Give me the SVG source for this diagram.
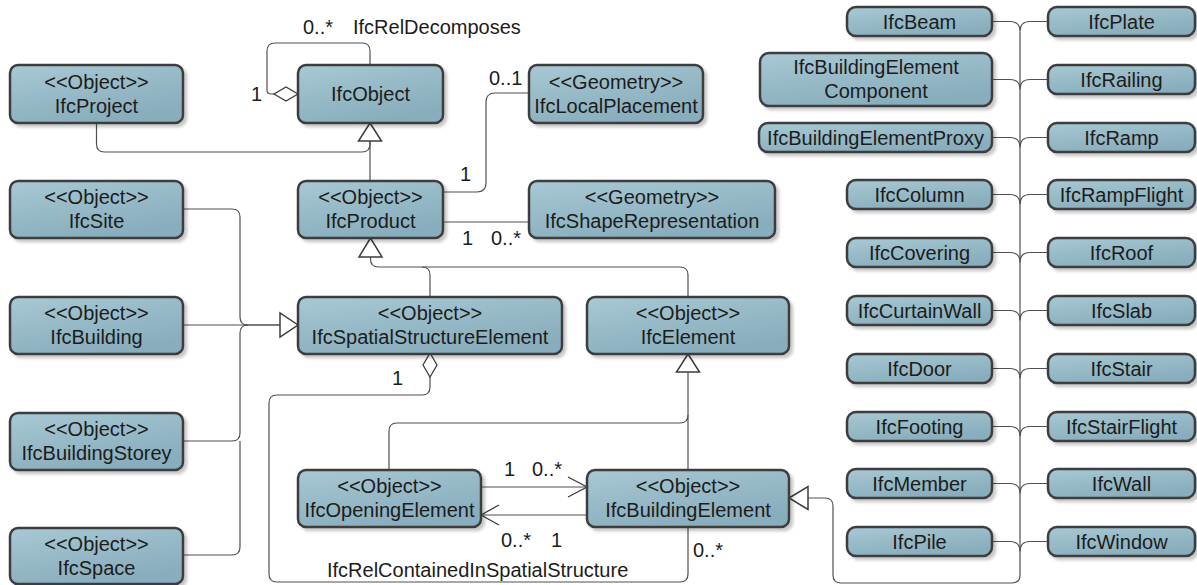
<svg xmlns="http://www.w3.org/2000/svg" width="1197" height="585" viewBox="0 0 1197 585">
<defs>
<linearGradient id="g" x1="0" y1="0" x2="0.5" y2="1">
<stop offset="0" stop-color="#a8c8d4"/>
<stop offset="1" stop-color="#88adbc"/>
</linearGradient>
<filter id="sh" x="-10%" y="-20%" width="130%" height="160%">
<feDropShadow dx="3" dy="3" stdDeviation="1.5" flood-color="#000" flood-opacity="0.22"/>
</filter>
<style>
text{font-family:"Liberation Sans",Arial,sans-serif;font-size:20px;fill:#1c1c1c}
.n rect{fill:url(#g);stroke:#3c3c3c;stroke-width:2.5;filter:url(#sh)}
.n text{text-anchor:middle}
.c path{fill:none;stroke:#505050;stroke-width:1.2}
.c .tri{fill:#fff;stroke:#3c3c3c;stroke-width:1.5}
.c .dia{fill:#fff;stroke:#3c3c3c;stroke-width:1.3}
.c .arr{fill:none;stroke:#3c3c3c;stroke-width:1.3}
</style>
</defs>
<rect width="1197" height="585" fill="#fff"/>

<g class="c" id="connectors">
<!-- self aggregation IfcObject -->
<path d="M274,94 L271,94 Q267,94 267,90 V51 Q267,43 275,43 H362 Q370,43 370,51 V65"/>
<polygon class="dia" points="298,94 286,87 274,94 286,101"/>
<!-- IfcProject / IfcProduct -> IfcObject -->
<path d="M96.5,123 V144 Q96.5,152 104.5,152 H362 Q370,152 370,144 V141"/>
<path d="M370,181 V141"/>
<polygon class="tri" points="370,123 358.5,141 381.5,141"/>
<!-- IfcProduct - IfcLocalPlacement -->
<path d="M443,192 H477 Q486,192 486,183 V102 Q486,93 495,93 H529"/>
<!-- IfcProduct - IfcShapeRepresentation -->
<path d="M443,222 H529"/>
<!-- generalization to IfcProduct -->
<path d="M370.5,257 V259 Q370.5,267 378.5,267 H422 Q430,267 430,275 V297"/>
<path d="M422,267 H680 Q688,267 688,275 V297"/>
<polygon class="tri" points="370.5,238 359,257 382,257"/>
<!-- generalization to IfcSpatialStructureElement -->
<path d="M183,209 H232 Q240,209 240,217 V317 Q240,325 248,325 H280"/>
<path d="M183,325 H280"/>
<path d="M183,441 H232 Q240,441 240,433 V333 Q240,325 248,325"/>
<path d="M183,555 H232 Q240,555 240,547 V441"/>
<polygon class="tri" points="298,325 280,313 280,337"/>
<!-- IfcRelContainedInSpatialStructure -->
<path d="M430,377 V387 Q430,395 422,395 H277 Q269,395 269,403 V574 Q269,582 277,582 H680 Q688,582 688,574 V527"/>
<polygon class="dia" points="430,353 437,365 430,377 423,365"/>
<!-- generalization to IfcElement -->
<path d="M688,372 V470"/>
<path d="M389,470 V431 Q389,423 397,423 H680 Q688,423 688,415"/>
<polygon class="tri" points="688,354 676.5,372 699.5,372"/>
<!-- Opening <-> BuildingElement -->
<path d="M481,487 H587"/>
<path class="arr" d="M568,477 L587,487 L568,497"/>
<path d="M587,515 H481"/>
<path class="arr" d="M499,505 L481,515 L499,525"/>
<!-- building element subtypes trunk -->
<path d="M1020,31.5 V575 Q1020,583 1012,583 H841 Q833,583 833,575 V506 Q833,498 825,498 H808"/>
<polygon class="tri" points="789,498 808,486.5 808,509.5"/>
<path d="M992,21.5 H1010 Q1020,21.5 1020,31.5 M1048,21.5 H1030 Q1020,21.5 1020,31.5"/>
<path d="M992,79.5 H1010 Q1020,79.5 1020,89.5 M1048,79.5 H1030 Q1020,79.5 1020,89.5"/>
<path d="M992,137.5 H1010 Q1020,137.5 1020,147.5 M1048,137.5 H1030 Q1020,137.5 1020,147.5"/>
<path d="M992,194.5 H1010 Q1020,194.5 1020,204.5 M1048,194.5 H1030 Q1020,194.5 1020,204.5"/>
<path d="M992,252.5 H1010 Q1020,252.5 1020,262.5 M1048,252.5 H1030 Q1020,252.5 1020,262.5"/>
<path d="M992,310.5 H1010 Q1020,310.5 1020,320.5 M1048,310.5 H1030 Q1020,310.5 1020,320.5"/>
<path d="M992,368.5 H1010 Q1020,368.5 1020,378.5 M1048,368.5 H1030 Q1020,368.5 1020,378.5"/>
<path d="M992,426.5 H1010 Q1020,426.5 1020,436.5 M1048,426.5 H1030 Q1020,426.5 1020,436.5"/>
<path d="M992,483.5 H1010 Q1020,483.5 1020,493.5 M1048,483.5 H1030 Q1020,483.5 1020,493.5"/>
<path d="M992,541.5 H1010 Q1020,541.5 1020,551.5 M1048,541.5 H1030 Q1020,541.5 1020,551.5"/>
<!-- labels -->
<text x="303" y="34">0..*</text>
<text x="353" y="34">IfcRelDecomposes</text>
<text x="251" y="101">1</text>
<text x="489" y="85">0..1</text>
<text x="460" y="181">1</text>
<text x="462" y="245">1</text>
<text x="491" y="245">0..*</text>
<text x="392" y="385">1</text>
<text x="504" y="476">1</text>
<text x="532" y="476">0..*</text>
<text x="501" y="547">0..*</text>
<text x="551" y="547">1</text>
<text x="693" y="557">0..*</text>
<text x="327" y="577">IfcRelContainedInSpatialStructure</text>
</g>

<g class="n" id="IfcProject"><rect x="10" y="65" width="173" height="58" rx="8"/><text x="96.5" y="89">&lt;&lt;Object&gt;&gt;</text><text x="96.5" y="113">IfcProject</text></g>
<g class="n" id="IfcObject"><rect x="298" y="65" width="145" height="58" rx="8"/><text x="370.5" y="101">IfcObject</text></g>
<g class="n" id="IfcLocalPlacement"><rect x="529" y="65" width="174" height="58" rx="8"/><text x="616" y="89">&lt;&lt;Geometry&gt;&gt;</text><text x="616" y="113">IfcLocalPlacement</text></g>
<g class="n" id="IfcSite"><rect x="10" y="181" width="173" height="57" rx="8"/><text x="96.5" y="204">&lt;&lt;Object&gt;&gt;</text><text x="96.5" y="228">IfcSite</text></g>
<g class="n" id="IfcProduct"><rect x="298" y="181" width="145" height="57" rx="8"/><text x="370.5" y="204">&lt;&lt;Object&gt;&gt;</text><text x="370.5" y="228">IfcProduct</text></g>
<g class="n" id="IfcShapeRepresentation"><rect x="529" y="181" width="246" height="57" rx="8"/><text x="652" y="204">&lt;&lt;Geometry&gt;&gt;</text><text x="652" y="228">IfcShapeRepresentation</text></g>
<g class="n" id="IfcBuilding"><rect x="10" y="297" width="173" height="57" rx="8"/><text x="96.5" y="320">&lt;&lt;Object&gt;&gt;</text><text x="96.5" y="344">IfcBuilding</text></g>
<g class="n" id="IfcSpatialStructureElement"><rect x="298" y="297" width="264" height="57" rx="8"/><text x="430" y="320">&lt;&lt;Object&gt;&gt;</text><text x="430" y="344">IfcSpatialStructureElement</text></g>
<g class="n" id="IfcElement"><rect x="587" y="297" width="202" height="57" rx="8"/><text x="688" y="320">&lt;&lt;Object&gt;&gt;</text><text x="688" y="344">IfcElement</text></g>
<g class="n" id="IfcBuildingStorey"><rect x="10" y="413" width="173" height="57" rx="8"/><text x="96.5" y="436">&lt;&lt;Object&gt;&gt;</text><text x="96.5" y="460">IfcBuildingStorey</text></g>
<g class="n" id="IfcOpeningElement"><rect x="298" y="470" width="183" height="57" rx="8"/><text x="389.5" y="493">&lt;&lt;Object&gt;&gt;</text><text x="389.5" y="517">IfcOpeningElement</text></g>
<g class="n" id="IfcBuildingElement"><rect x="587" y="470" width="202" height="57" rx="8"/><text x="688" y="493">&lt;&lt;Object&gt;&gt;</text><text x="688" y="517">IfcBuildingElement</text></g>
<g class="n" id="IfcSpace"><rect x="10" y="528" width="173" height="56" rx="8"/><text x="96.5" y="551">&lt;&lt;Object&gt;&gt;</text><text x="96.5" y="575">IfcSpace</text></g>

<g class="n" id="IfcBeam"><rect x="847" y="7" width="145" height="29" rx="9"/><text x="919.5" y="28.5">IfcBeam</text></g>
<g class="n" id="IfcBuildingElementComponent"><rect x="760" y="53" width="232" height="53" rx="9"/><text x="876" y="74">IfcBuildingElement</text><text x="876" y="98">Component</text></g>
<g class="n" id="IfcBuildingElementProxy"><rect x="759" y="123" width="233" height="29" rx="9"/><text x="875.5" y="144.5">IfcBuildingElementProxy</text></g>
<g class="n" id="IfcColumn"><rect x="847" y="180" width="145" height="29" rx="9"/><text x="919.5" y="201.5">IfcColumn</text></g>
<g class="n" id="IfcCovering"><rect x="847" y="238" width="145" height="29" rx="9"/><text x="919.5" y="259.5">IfcCovering</text></g>
<g class="n" id="IfcCurtainWall"><rect x="847" y="296" width="145" height="29" rx="9"/><text x="919.5" y="317.5">IfcCurtainWall</text></g>
<g class="n" id="IfcDoor"><rect x="847" y="354" width="145" height="29" rx="9"/><text x="919.5" y="375.5">IfcDoor</text></g>
<g class="n" id="IfcFooting"><rect x="847" y="412" width="145" height="29" rx="9"/><text x="919.5" y="433.5">IfcFooting</text></g>
<g class="n" id="IfcMember"><rect x="847" y="469" width="145" height="29" rx="9"/><text x="919.5" y="490.5">IfcMember</text></g>
<g class="n" id="IfcPile"><rect x="847" y="527" width="145" height="29" rx="9"/><text x="919.5" y="548.5">IfcPile</text></g>

<g class="n" id="IfcPlate"><rect x="1048" y="7" width="147" height="29" rx="9"/><text x="1121.5" y="28.5">IfcPlate</text></g>
<g class="n" id="IfcRailing"><rect x="1048" y="65" width="147" height="29" rx="9"/><text x="1121.5" y="86.5">IfcRailing</text></g>
<g class="n" id="IfcRamp"><rect x="1048" y="123" width="147" height="29" rx="9"/><text x="1121.5" y="144.5">IfcRamp</text></g>
<g class="n" id="IfcRampFlight"><rect x="1048" y="180" width="147" height="29" rx="9"/><text x="1121.5" y="201.5">IfcRampFlight</text></g>
<g class="n" id="IfcRoof"><rect x="1048" y="238" width="147" height="29" rx="9"/><text x="1121.5" y="259.5">IfcRoof</text></g>
<g class="n" id="IfcSlab"><rect x="1048" y="296" width="147" height="29" rx="9"/><text x="1121.5" y="317.5">IfcSlab</text></g>
<g class="n" id="IfcStair"><rect x="1048" y="354" width="147" height="29" rx="9"/><text x="1121.5" y="375.5">IfcStair</text></g>
<g class="n" id="IfcStairFlight"><rect x="1048" y="412" width="147" height="29" rx="9"/><text x="1121.5" y="433.5">IfcStairFlight</text></g>
<g class="n" id="IfcWall"><rect x="1048" y="469" width="147" height="29" rx="9"/><text x="1121.5" y="490.5">IfcWall</text></g>
<g class="n" id="IfcWindow"><rect x="1048" y="527" width="147" height="29" rx="9"/><text x="1121.5" y="548.5">IfcWindow</text></g>
</svg>
